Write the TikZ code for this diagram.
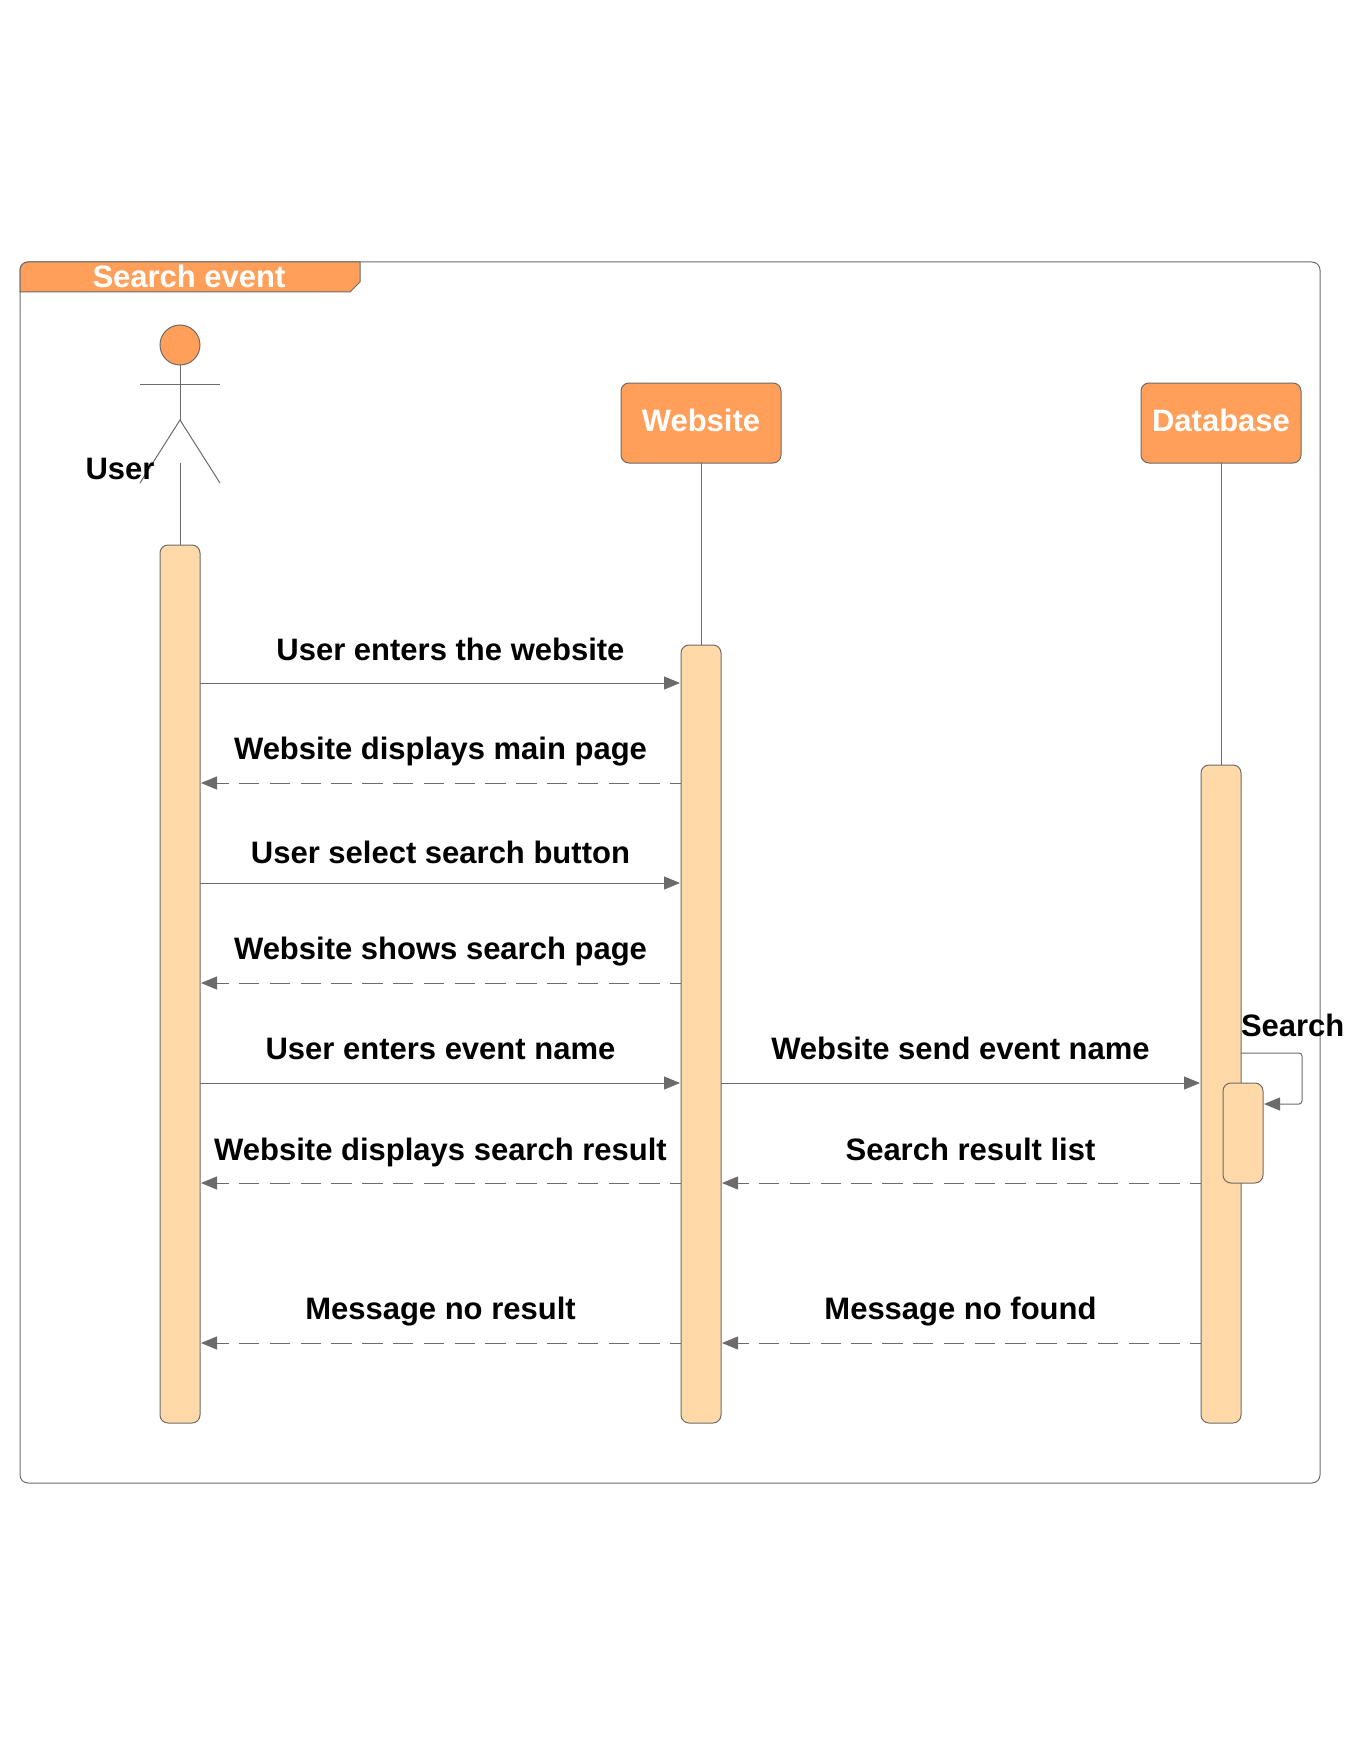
\documentclass[tikz,border=0pt]{standalone}
\usepackage{fontspec}
\setmainfont{Liberation Sans}
\usetikzlibrary{arrows.meta}
\definecolor{ln}{HTML}{6B6B6B}
\definecolor{org}{HTML}{FF9F59}
\definecolor{lorg}{HTML}{FFD9A8}
\tikzset{
  x=1pt,y=-1pt,
  every node/.style={inner sep=0pt,outer sep=0pt},
  ln/.style={draw=ln,line width=1pt},
  activ/.style={ln,fill=lorg,rounded corners=8pt,minimum width=40pt,anchor=north},
  headbox/.style={ln,fill=org,rounded corners=8pt,minimum width=160pt,minimum height=80pt,text=white,font=\fontsize{31}{37}\selectfont\bfseries},
  lbl/.style={font=\fontsize{31}{37}\selectfont\bfseries,text=black},
  msg/.style={ln,-{Triangle[length=16pt,width=13pt,color=ln]},shorten >=1pt},
  rep/.style={msg,dash pattern=on 20.4pt off 10.4pt,dash phase=9.5pt},
}
\begin{document}
\begin{tikzpicture}
\useasboundingbox (0,0) rectangle (1360,1760);
% frame
\node[ln,rounded corners=8pt,minimum width=1300pt,minimum height=1221pt,anchor=north west] (frame) at (20,262) {};
\path[ln,fill=org] (20,292) [rounded corners=8pt] -- (20,262) [sharp corners] -- (360,262) -- (360,282) -- (350,292) -- cycle;
\node[lbl,text=white] (title) at (189,276) {Search event};
% actor
\node[ln,fill=org,circle,minimum size=40pt] (head) at (180,345) {};
\coordinate (hip) at (180,420);
\coordinate (armL) at (140,384);
\coordinate (armR) at (220,384);
\coordinate (legL) at (140,483);
\coordinate (legR) at (220,483);
\draw[ln] (head.south) -- (hip);
\draw[ln] (armL) -- (armR);
\draw[ln] (legL) -- (hip) -- (legR);
\node[lbl] (user) at (120,469) {User};
% heads
\node[headbox] (web) at (701,423) {\raisebox{5pt}{Website}};
\node[headbox] (db) at (1221,423) {\raisebox{5pt}{Database}};
% activations
\node[activ,minimum height=878pt] (ua) at (180,545) {};
\node[activ,minimum height=778pt] (wa) at (701,645) {};
\node[activ,minimum height=658pt] (da) at (1221,765) {};
\node[activ,minimum height=100pt] (sa) at (1243,1083) {};
% lifelines
\coordinate (utop) at (180,463);
\draw[ln] (utop) -- (ua.north);
\draw[ln] (web.south) -- (wa.north);
\draw[ln] (db.south) -- (da.north);
% message rows
\coordinate (r1) at (0,683);
\coordinate (r2) at (0,783);
\coordinate (r3) at (0,883);
\coordinate (r4) at (0,983);
\coordinate (r5) at (0,1083);
\coordinate (r6) at (0,1183);
\coordinate (r7) at (0,1343);
\draw[msg] (ua.east |- r1) -- (wa.west |- r1);
\draw[rep] (wa.west |- r2) -- (ua.east |- r2);
\draw[msg] (ua.east |- r3) -- (wa.west |- r3);
\draw[rep] (wa.west |- r4) -- (ua.east |- r4);
\draw[msg] (ua.east |- r5) -- (wa.west |- r5);
\draw[msg] (wa.east |- r5) -- (da.west |- r5);
\draw[rep] (wa.west |- r6) -- (ua.east |- r6);
\draw[rep] (da.west |- r6) -- (wa.east |- r6);
\draw[rep] (wa.west |- r7) -- (ua.east |- r7);
\draw[rep] (da.west |- r7) -- (wa.east |- r7);
% self message
\coordinate (ss) at (1241,1053);
\coordinate (st) at (1263,1104);
\draw[msg,rounded corners=3pt] (ss) -- (1302,1053) -- (1302,1104) -- (st);
% labels
\node[lbl] (l1) at (450.5,649) {User enters the website};
\node[lbl] (l2) at (440.5,752) {Website displays main page};
\node[lbl] (l3) at (440.5,852) {User select search button};
\node[lbl] (l4) at (440.5,952) {Website shows search page};
\node[lbl] (l5) at (440.5,1049) {User enters event name};
\node[lbl] (l6) at (960.5,1048.5) {Website send event name};
\node[lbl] (l7) at (440.5,1152) {Website displays search result};
\node[lbl] (l8) at (970.5,1149) {Search result list};
\node[lbl] (l9) at (440.5,1312) {Message no result};
\node[lbl] (l10) at (960.5,1312) {Message no found};
\node[lbl,anchor=west] (l11) at (1241,1025) {Search};
\end{tikzpicture}
\end{document}
